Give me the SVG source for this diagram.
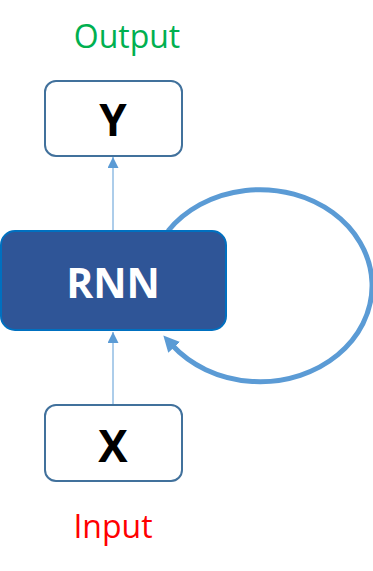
<svg xmlns="http://www.w3.org/2000/svg" width="373" height="571" viewBox="0 0 373 571">
<defs>
<style>
.box{fill:#fff;stroke:#41719C;stroke-width:2}
.lbl{font-family:"Open Sans","Noto Sans",sans-serif;text-anchor:middle}
.big{font-family:"Open Sans","Noto Sans",sans-serif;font-weight:bold;text-anchor:middle}
.thin{stroke:#5B9BD5;stroke-width:1;fill:none}
</style>
<marker id="ah" viewBox="0 0 10 10" refX="10" refY="5" markerWidth="11" markerHeight="11" markerUnits="userSpaceOnUse" orient="auto">
<path d="M0,0 L10,5 L0,10 Z" fill="#5B9BD5"/>
</marker>
<marker id="ahb" viewBox="0 0 10 10" refX="2" refY="5" markerWidth="16" markerHeight="18" markerUnits="userSpaceOnUse" orient="auto">
<path d="M0,0 L10,5 L0,10 Z" fill="#5B9BD5"/>
</marker>
</defs>
<g id="connectors">
<line class="thin" x1="113" y1="230" x2="113" y2="157" marker-end="url(#ah)"/>
<line class="thin" x1="113" y1="405" x2="113" y2="332" marker-end="url(#ah)"/>
<path d="M168,231 A112,96 0 1 1 172,345" fill="none" stroke="#5B9BD5" stroke-width="5" marker-end="url(#ahb)"/>
</g>
<g id="output-label"><text class="lbl" x="127" y="48" font-size="32" fill="#00B050">Output</text></g>
<g id="Y"><rect class="box" x="45" y="81" width="137" height="75" rx="11"/><text class="big" x="113" y="136" font-size="44" fill="#000">Y</text></g>
<g id="RNN"><rect x="1" y="231" width="225" height="99" rx="14" fill="#2F5597" stroke="#0070C0" stroke-width="2"/><text class="big" x="113" y="298" font-size="41" fill="#fff">RNN</text></g>
<g id="X"><rect class="box" x="45" y="405" width="137" height="76" rx="11"/><text class="big" x="113" y="462" font-size="44" fill="#000">X</text></g>
<g id="input-label"><text class="lbl" x="113" y="538" font-size="32" fill="#FF0000">Input</text></g>
</svg>
